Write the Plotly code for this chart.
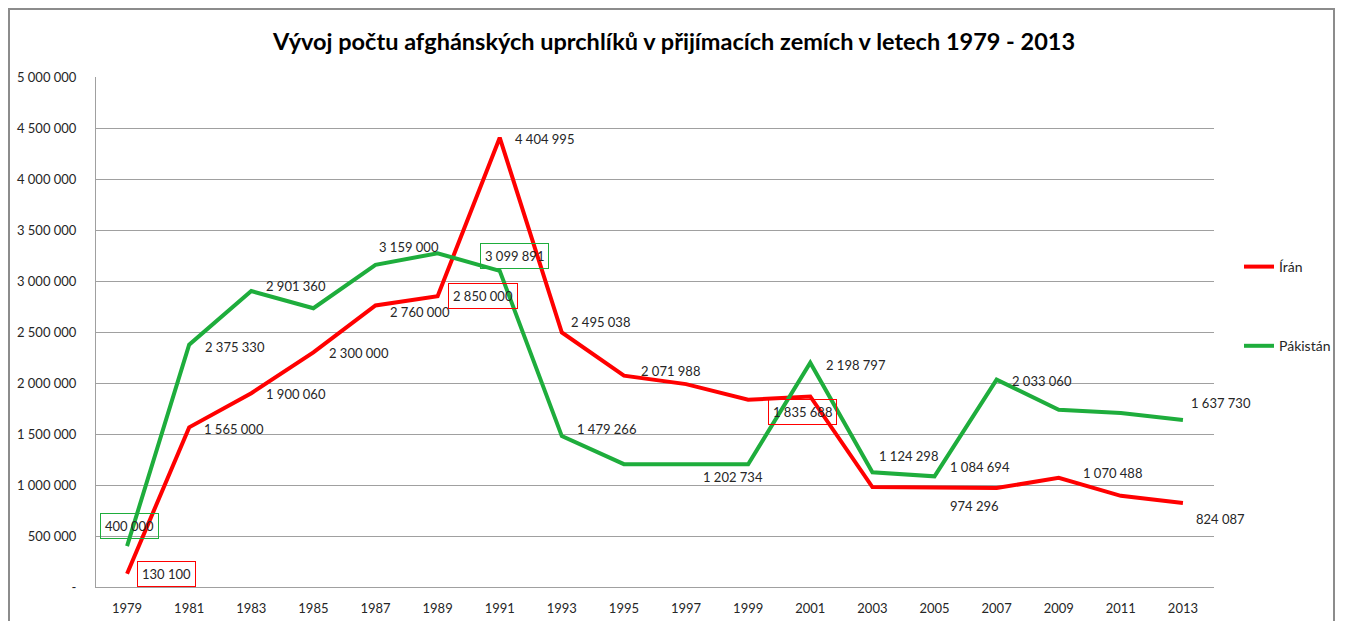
import plotly.graph_objects as go

# ---------------- data ----------------
years = ["1979", "1981", "1983", "1985", "1987", "1989", "1991", "1993", "1995",
         "1997", "1999", "2001", "2003", "2005", "2007", "2009", "2011", "2013"]
iran = [130100, 1565000, 1900060, 2300000, 2760000, 2850000, 4404995, 2495038, 2071988,
        1989000, 1835688, 1868000, 980000, 974296, 970000, 1070488, 894000, 824087]
pakistan = [400000, 2375330, 2901360, 2733000, 3159000, 3272000, 3099891, 1479266, 1204000,
            1202734, 1204000, 2198797, 1124298, 1084694, 2033060, 1737000, 1705000, 1637730]
series_names = ["Írán", "Pákistán"]
y_tick_values = [0, 500000, 1000000, 1500000, 2000000, 2500000, 3000000, 3500000, 4000000,
                 4500000, 5000000]
y_tick_labels = ["-", "500 000", "1 000 000", "1 500 000", "2 000 000", "2 500 000",
                 "3 000 000", "3 500 000", "4 000 000", "4 500 000", "5 000 000"]
iran_labeled = ["1979", "1981", "1983", "1985", "1987", "1989", "1991", "1993", "1995",
                "1999", "2005", "2009", "2013"]
pakistan_labeled = ["1979", "1981", "1983", "1987", "1991", "1993", "1997", "2001", "2003",
                    "2005", "2007", "2013"]
title_text = "Vývoj počtu afghánských uprchlíků v přijímacích zemích v letech 1979 - 2013"

# ---------------- style ----------------
RED = "#FF0000"
GREEN = "#1EAD3C"
GRID = "#A0A0A0"
TXT = "#262626"
FONT = "Lato, 'Open Sans', sans-serif"

# label placement (pixel offsets: text left edge dx, text centre dy downwards, boxed)
iran_label_style = {
    "1979": (15, 0, True), "1981": (15, 2, False), "1983": (15, 1, False),
    "1985": (16, 1, False), "1987": (14, 7, False), "1989": (15, 0, True),
    "1991": (15, 1, False), "1993": (9, -11, False), "1995": (17, -5, False),
    "1999": (25, 12, True), "2005": (15, 18, False), "2009": (24, -5, False),
    "2013": (13, 16, False),
}
pak_label_style = {
    "1979": (-22, -20, True), "1981": (16, 2, False), "1983": (15, -5, False),
    "1987": (3, -18, False), "1991": (-15, -15, True), "1993": (15, -7, False),
    "1997": (17, 13, False), "2001": (16, 2, False), "2003": (7, -16, False),
    "2005": (15, -9, False), "2007": (15, 1, False), "2013": (8, -17, False),
}


def fmt(v):
    return "{:,}".format(v).replace(",", "\u00a0")


fig = go.Figure()
fig.add_trace(go.Scatter(x=years, y=iran, name=series_names[0], mode="lines",
                         line=dict(color=RED, width=4), legendgroup="a"))
fig.add_trace(go.Scatter(x=years, y=pakistan, name=series_names[1], mode="lines",
                         line=dict(color=GREEN, width=4), legendgroup="b"))

PAD = 4
annotations = []
for values, labeled, style, color in ((iran, iran_labeled, iran_label_style, RED),
                                      (pakistan, pakistan_labeled, pak_label_style, GREEN)):
    for yr in labeled:
        i = years.index(yr)
        v = values[i]
        dx, dy, boxed = style[yr]
        annotations.append(dict(
            x=i, y=v, xref="x", yref="y", text=fmt(v), showarrow=False,
            xanchor="left", yanchor="middle", xshift=dx - PAD - 1, yshift=-dy,
            font=dict(family=FONT, size=13, color=TXT),
            bordercolor=color if boxed else "rgba(0,0,0,0)", borderwidth=1,
            borderpad=PAD, bgcolor="rgba(0,0,0,0)",
        ))

W, H = 1345, 621
L, R, T = 96, 131, 77
B = 34
BOTTOM_PX = H - B
ph = BOTTOM_PX - T
pw = W - L - R

border = dict(color="#8C8C8C", width=2)
xl, xr, yt = (9 - L) / pw, (1334 - L) / pw, (BOTTOM_PX - 9) / ph
yb = -(H + 10 - BOTTOM_PX) / ph
shapes = [
    dict(type="path", xref="paper", yref="paper",
         path=f"M {xl},{yb} L {xl},{yt} L {xr},{yt} L {xr},{yb}", line=border,
         layer="above"),
]

fig.update_layout(
    width=W, height=H, autosize=False,
    margin=dict(l=L, r=R, t=T, b=B, pad=0, autoexpand=False),
    paper_bgcolor="white", plot_bgcolor="white",
    font=dict(family=FONT, size=13, color=TXT),
    title=dict(text="<b>" + title_text + "</b>", x=674 / W, xref="container",
               xanchor="center", y=1 - 42 / H, yref="container", yanchor="middle",
               font=dict(family=FONT, size=23.5, color="#000000")),
    showlegend=True,
    legend=dict(x=(1239 - L) / pw, xanchor="left", y=(BOTTOM_PX - 251) / ph, yanchor="top",
                traceorder="grouped", tracegroupgap=58, itemwidth=30,
                font=dict(family=FONT, size=14, color=TXT),
                bgcolor="rgba(0,0,0,0)", borderwidth=0),
    annotations=annotations,
    shapes=shapes,
)
fig.update_xaxes(type="category", range=[-0.5, len(years) - 0.5], autorange=False,
                 showgrid=False, showline=True, linecolor=GRID, automargin=False,
                 linewidth=1, ticks="", ticklabelstandoff=9,
                 tickfont=dict(family=FONT, size=13, color=TXT), zeroline=False)
fig.update_yaxes(range=[0, 5000000], tickvals=y_tick_values, ticktext=y_tick_labels,
                 showgrid=True, gridcolor=GRID, gridwidth=1, showline=True, automargin=False,
                 linecolor=GRID, linewidth=1, ticks="", ticklabelstandoff=16,
                 tickfont=dict(family=FONT, size=13, color=TXT), zeroline=False)

fig.write_html("out.html", config={"displayModeBar": False, "responsive": False},
               post_script="document.body.style.margin='0';document.body.style.overflow='hidden';")
